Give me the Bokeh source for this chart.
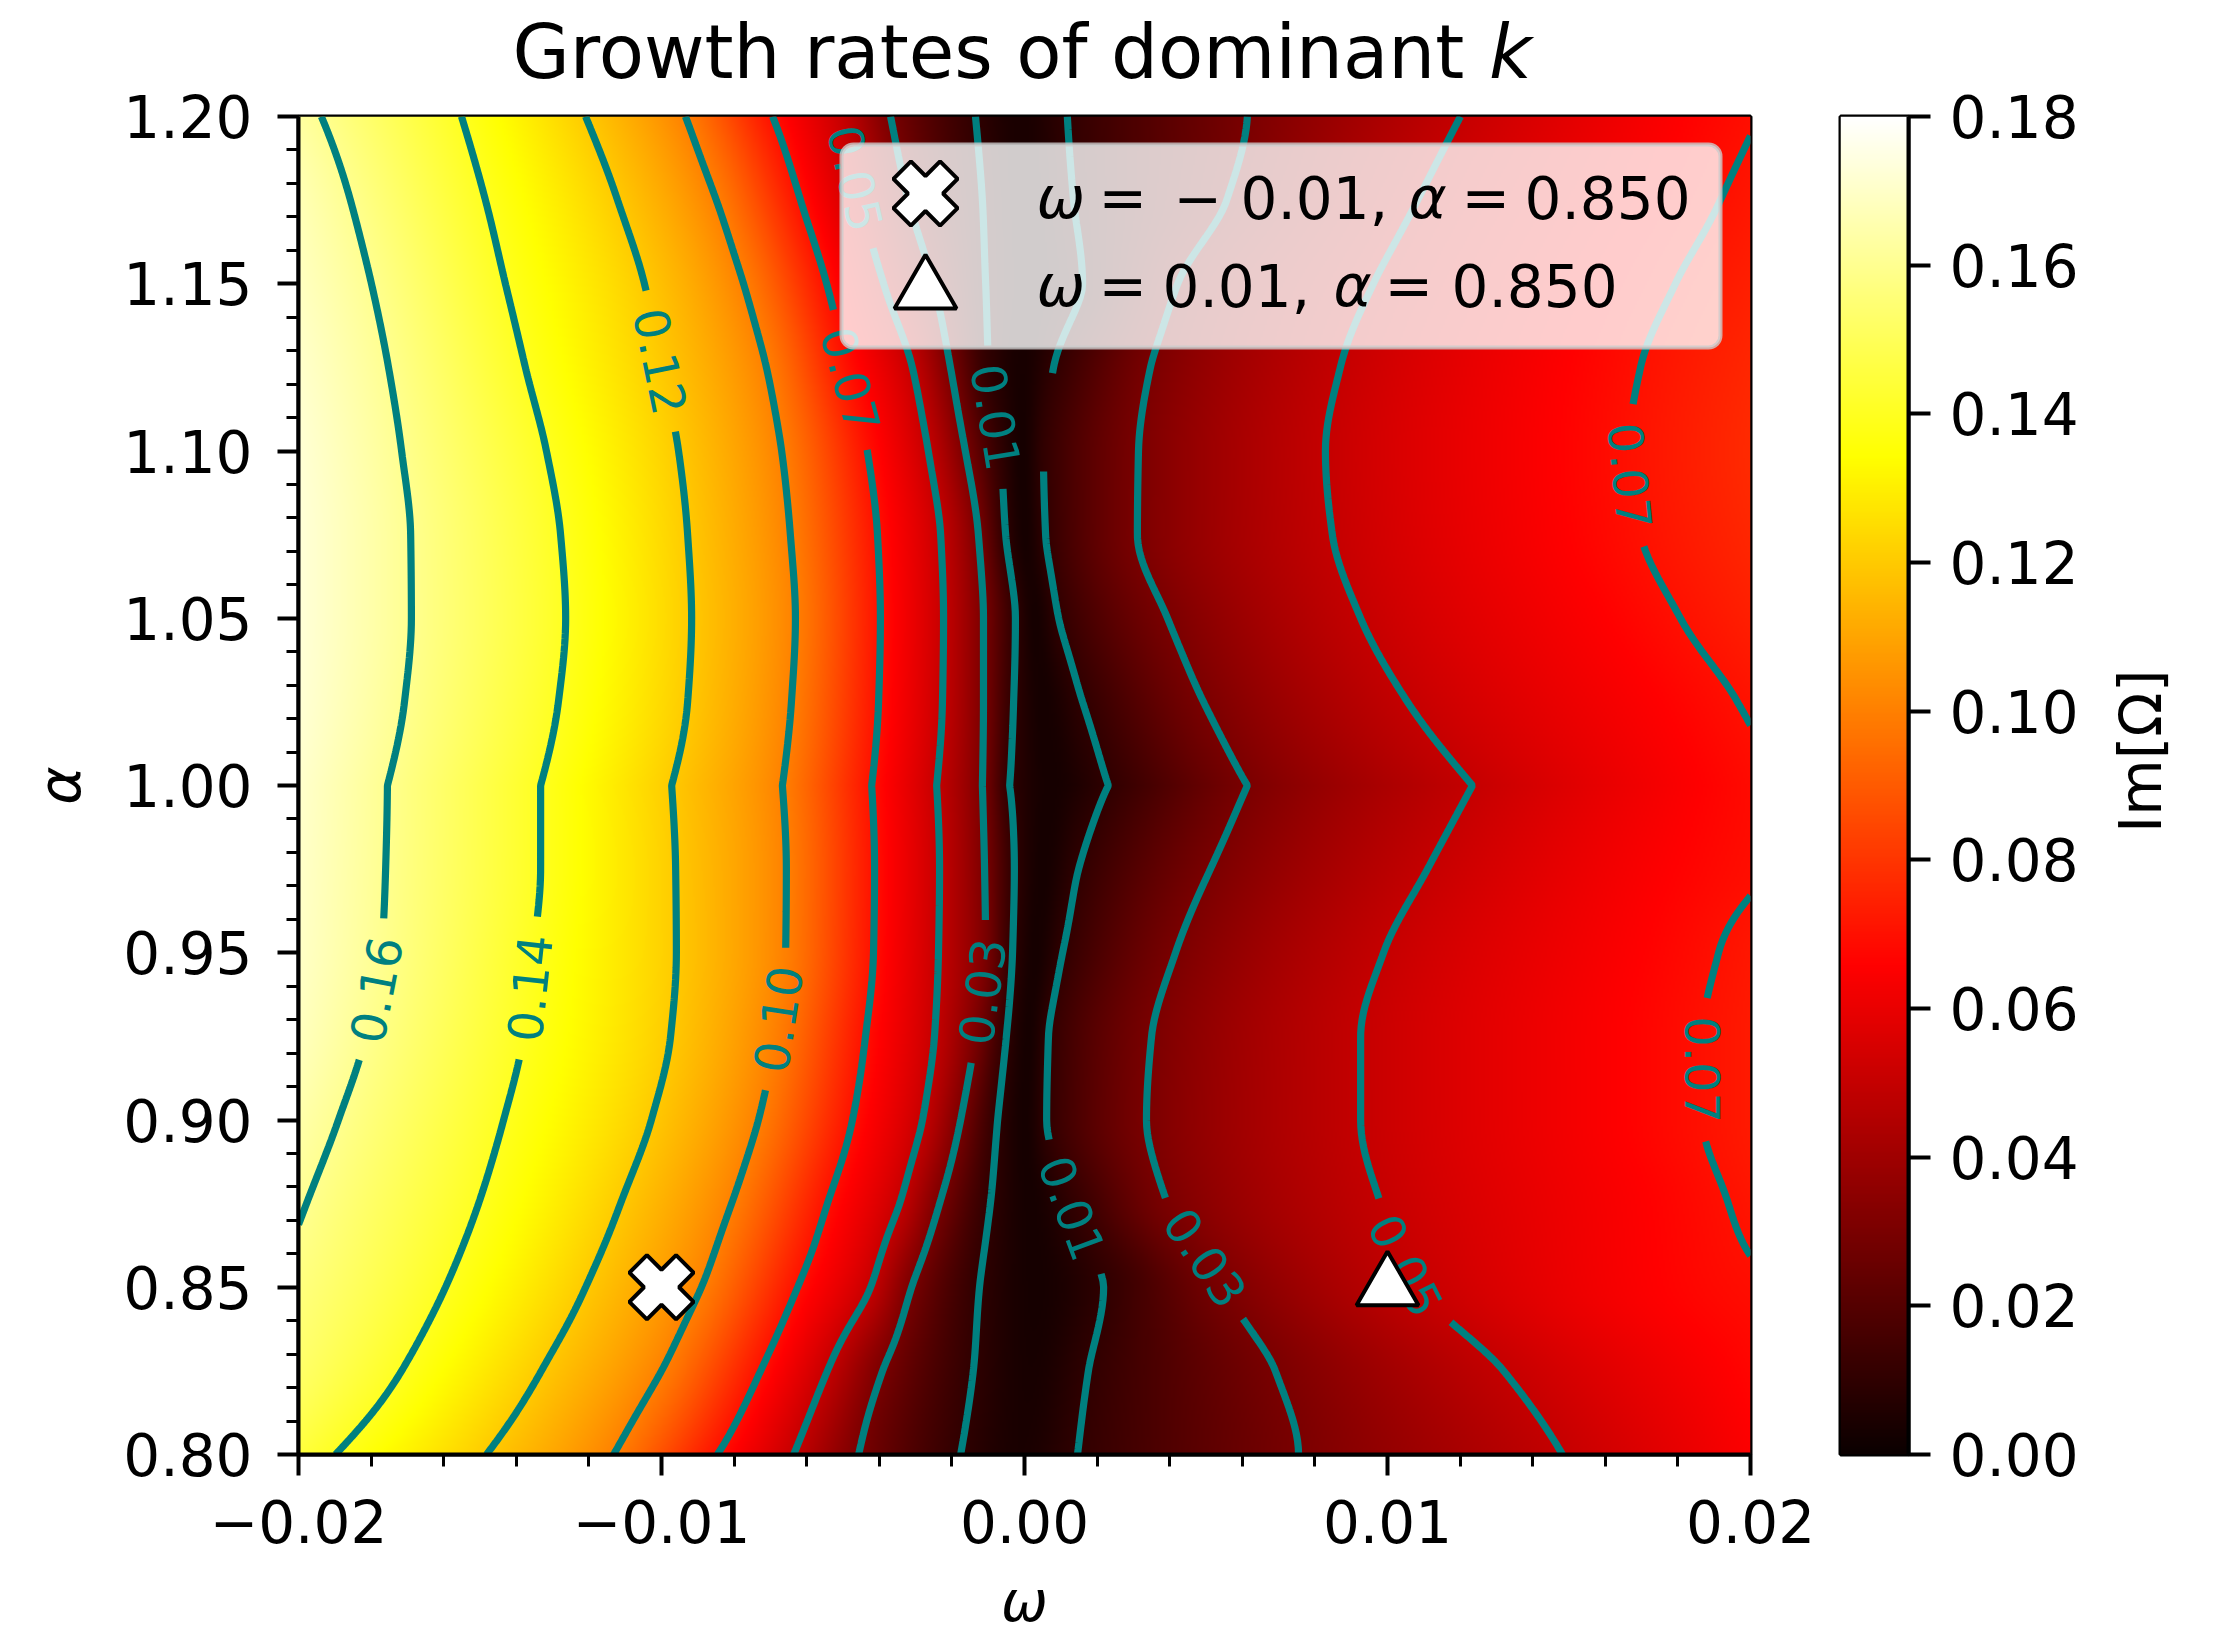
import math
import numpy as np
import contourpy
from bokeh.plotting import figure
from bokeh.layouts import row, column
from bokeh.models import (Range1d, FixedTicker, NumeralTickFormatter,
                          CustomJSTickFormatter, Label, BoxAnnotation)
from bokeh.core.properties import value
from bokeh.embed import file_html
from bokeh.resources import INLINE

# ---------------------------------------------------------------- data
W_MIN, W_MAX = -0.02, 0.02
A_MIN, A_MAX = 0.80, 1.20
x_ticks = [-0.02, -0.01, 0.00, 0.01, 0.02]
y_ticks = [0.80, 0.85, 0.90, 0.95, 1.00, 1.05, 1.10, 1.15, 1.20]
cbar_ticks = [0.00, 0.02, 0.04, 0.06, 0.08, 0.10, 0.12, 0.14, 0.16, 0.18]
cbar_max = 0.18
contour_levels = [0.01, 0.03, 0.05, 0.07, 0.10, 0.12, 0.14, 0.16]

# rows of alpha (top to bottom) at which the field was read
alpha_rows = [1.200, 1.175, 1.150, 1.125, 1.100, 1.075, 1.050, 1.025, 1.000,
              0.975, 0.950, 0.925, 0.900, 0.875, 0.850, 0.825, 0.800]
# Im[Omega] at the left edge (omega = -0.02) and right edge (omega = 0.02)
z_left_edge = [0.163, 0.167, 0.169, 0.171, 0.1725, 0.173, 0.173, 0.1726, 0.171,
               0.1705, 0.170, 0.1685, 0.165, 0.161, 0.157, 0.153, 0.145]
z_right_edge = [0.0695, 0.0717, 0.0740, 0.0760, 0.0770, 0.0760, 0.0739, 0.0707, 0.0685,
                0.0693, 0.0718, 0.0726, 0.0726, 0.0712, 0.0692, 0.0670, 0.0650]
# omega where each level is crossed, left of the dark valley
w016 = [-0.01937, -0.01857, -0.01799, -0.01752, -0.01716, -0.01691, -0.01689, -0.01708, -0.01755,
        -0.01760, -0.01771, -0.01815, -0.01890, -0.01978, None, None, None]
w014 = [-0.01551, -0.01485, -0.01430, -0.01375, -0.01317, -0.01278, -0.01264, -0.01284, -0.01333,
        -0.01333, -0.01353, -0.01380, -0.01435, -0.01504, -0.01595, -0.01716, -0.01898]
w012 = [-0.01209, -0.01121, -0.01047, -0.01000, -0.00953, -0.00928, -0.00917, -0.00928, -0.00972,
        -0.00961, -0.00959, -0.00975, -0.01028, -0.01113, -0.01209, -0.01331, -0.01482]
w010 = [-0.00934, -0.00849, -0.00774, -0.00711, -0.00669, -0.00645, -0.00631, -0.00642, -0.00667,
        -0.00656, -0.00658, -0.00686, -0.00733, -0.00807, -0.00890, -0.01000, -0.01132]
w007 = [-0.00694, -0.00617, -0.00545, -0.00488, -0.00433, -0.00405, -0.00397, -0.00402, -0.00421,
        -0.00413, -0.00416, -0.00438, -0.00474, -0.00543, -0.00625, -0.00727, -0.00846]
w005_left = [-0.00499, -0.00452, -0.00388, -0.00309, -0.00265, -0.00231, -0.00223, -0.00226, -0.00242,
             -0.00234, -0.00237, -0.00248, -0.00281, -0.00344, -0.00424, -0.00543, -0.00636]
w003_left = [-0.00369, -0.00320, -0.00251, -0.00204, -0.00163, -0.00127, -0.00113, -0.00113, -0.00116,
             -0.00110, -0.00107, -0.00135, -0.00176, -0.00234, -0.00311, -0.00391, -0.00457]
w001_left = [-0.00135, -0.00116, -0.00107, -0.00099, -0.00066, -0.00052, -0.00025, -0.00030, -0.00041,
             -0.00028, -0.00033, -0.00050, -0.00074, -0.00094, -0.00124, -0.00141, -0.00176]
# bottom of the valley
w_valley = [-0.00011, 0.00003, 0.00017, -0.00005, -0.00005, 0.00003, 0.00030, 0.00050, 0.00072,
            0.00050, 0.00030, 0.00011, 0.00003, 0.00017, 0.00030, 0.00017, -0.00011]
z_valley = [0.004, 0.004, 0.004, 0.0035, 0.003, 0.003, 0.003, 0.003, 0.003,
            0.003, 0.003, 0.003, 0.003, 0.003, 0.003, 0.0035, 0.004]
# crossings right of the valley
w001_right = [0.00118, 0.00135, 0.00160, 0.00080, 0.00052, 0.00058, 0.00094, 0.00160, 0.00231,
              0.00149, 0.00105, 0.00066, 0.00061, 0.00127, 0.00218, 0.00176, 0.00146]
w003_right = [0.00614, 0.00557, 0.00422, 0.00347, 0.00314, 0.00311, 0.00394, 0.00493, 0.00614,
              0.00512, 0.00416, 0.00350, 0.00336, 0.00394, 0.00548, 0.00691, 0.00755]
w005_right = [0.01201, 0.01083, 0.00961, 0.00870, 0.00829, 0.00848, 0.00926, 0.01055, 0.01234,
              0.01110, 0.00989, 0.00926, 0.00926, 0.00981, 0.01083, 0.01320, 0.01482]
w007_right = [None, 0.01917, 0.01793, 0.01697, 0.01664, 0.01697, 0.01807, 0.01964, None,
              None, 0.01912, 0.01868, 0.01868, 0.01939, None, None, None]

# the two marked points
marker_omega = [-0.01, 0.01]
marker_alpha = [0.85, 0.85]
marker_shapes = ["plus", "triangle"]

# contour label anchors (level, omega, alpha)
label_levels = [0.16, 0.14, 0.12, 0.10, 0.07, 0.05, 0.03, 0.01, 0.01, 0.03, 0.05, 0.07, 0.07]
label_omega = [-0.01802, -0.01366, -0.00986, -0.00700, -0.00474, -0.00474, -0.00127, -0.00066,
               0.00107, 0.00477, 0.01072, 0.01689, 0.01868]
label_alpha = [0.9393, 0.9393, 1.1271, 0.9303, 1.1214, 1.1815, 0.9387, 1.1103,
               0.8729, 0.8571, 0.8577, 1.0927, 0.9151]

# ---------------------------------------------------------------- layout constants (page pixels)
FONT = "DejaVu Sans"
PAGE_W, PAGE_H = 2213, 1633
FRAME_X0, FRAME_Y0 = 298, 116
FW, FH = 1452, 1338
TITLE_H = 104
ROW_Y0 = 80                      # the plot row starts here (it overlaps the blank foot of the title strip)
MAIN_TOP = FRAME_Y0 - ROW_Y0
MAIN_BOTTOM = 114
ROW_H = MAIN_TOP + FH + MAIN_BOTTOM
BOTTOM_H = PAGE_H - ROW_Y0 - ROW_H
MAIN_RIGHT = 80
MAIN_W = FRAME_X0 + FW + MAIN_RIGHT
CB_LEFT, CB_W, CB_RIGHT = 10, 68, 190
CBLAB_W = PAGE_W - MAIN_W - (CB_LEFT + CB_W + CB_RIGHT)
TEAL = "#008080"


def px2w(x):
    return W_MIN + (x - FRAME_X0) / FW * (W_MAX - W_MIN)


def px2a(y):
    return A_MAX - (y - FRAME_Y0) / FH * (A_MAX - A_MIN)


# ---------------------------------------------------------------- monotone cubic interpolation
def pchip2d(xk, Y, x):
    xk = np.asarray(xk, float)
    Y = np.asarray(Y, float)
    x = np.asarray(x, float)
    n = len(xk)
    h = np.diff(xk)
    d = np.diff(Y, axis=0) / h[:, None]
    m = np.zeros_like(Y)
    for k in range(1, n - 1):
        w1 = 2 * h[k] + h[k - 1]
        w2 = h[k] + 2 * h[k - 1]
        same = d[k - 1] * d[k] > 0
        with np.errstate(divide="ignore", invalid="ignore"):
            hm = (w1 + w2) / (w1 / d[k - 1] + w2 / d[k])
        m[k] = np.where(same, hm, 0.0)

    def endpoint(h0, h1, d0, d1):
        mm = ((2 * h0 + h1) * d0 - h0 * d1) / (h0 + h1)
        mm = np.where(np.sign(mm) != np.sign(d0), 0.0, mm)
        mm = np.where((np.sign(d0) != np.sign(d1)) & (np.abs(mm) > np.abs(3 * d0)), 3 * d0, mm)
        return mm

    if n > 2:
        m[0] = endpoint(h[0], h[1], d[0], d[1])
        m[-1] = endpoint(h[-1], h[-2], d[-1], d[-2])
    else:
        m[0] = d[0]
        m[-1] = d[0]
    idx = np.clip(np.searchsorted(xk, x, side="right") - 1, 0, n - 2)
    t = ((x - xk[idx]) / h[idx])[:, None]
    hh = h[idx][:, None]
    h00 = 2 * t ** 3 - 3 * t ** 2 + 1
    h10 = t ** 3 - 2 * t ** 2 + t
    h01 = -2 * t ** 3 + 3 * t ** 2
    h11 = t ** 3 - t ** 2
    return h00 * Y[idx] + h10 * hh * m[idx] + h01 * Y[idx + 1] + h11 * hh * m[idx + 1]


# ---------------------------------------------------------------- field construction
left_levels = [0.16, 0.14, 0.12, 0.10, 0.07, 0.05, 0.03, 0.01]
left_cross = [w016, w014, w012, w010, w007, w005_left, w003_left, w001_left]
right_levels = [0.01, 0.03, 0.05, 0.07]
right_cross = [w001_right, w003_right, w005_right, w007_right]

omega_fine = np.linspace(W_MIN, W_MAX, 801)
rows = []
for i in range(len(alpha_rows)):
    xs, ys = [W_MIN], [z_left_edge[i]]
    for lev, arr in zip(left_levels, left_cross):
        if arr[i] is not None:
            xs.append(arr[i]); ys.append(lev)
    xs.append(w_valley[i]); ys.append(z_valley[i])
    for lev, arr in zip(right_levels, right_cross):
        if arr[i] is not None:
            xs.append(arr[i]); ys.append(lev)
    xs.append(W_MAX); ys.append(z_right_edge[i])
    rows.append(pchip2d(xs, np.asarray(ys)[:, None], omega_fine)[:, 0])

order = np.argsort(alpha_rows)
alpha_asc = np.asarray(alpha_rows, float)[order]
Z = np.asarray(rows)[order]
KINK = 1.00  # the field has a cusp along alpha = 1
kink_i = int(np.argmin(np.abs(alpha_asc - KINK)))


def along_alpha(Zr, a_eval):
    a_eval = np.asarray(a_eval, float)
    out = np.empty((len(a_eval), Zr.shape[1]))
    lo = a_eval <= KINK
    out[lo] = pchip2d(alpha_asc[:kink_i + 1], Zr[:kink_i + 1], a_eval[lo])
    out[~lo] = pchip2d(alpha_asc[kink_i:], Zr[kink_i:], a_eval[~lo])
    return out


alpha_fine = np.linspace(A_MIN, A_MAX, 201)
Z_fine = along_alpha(Z, alpha_fine)


# ---------------------------------------------------------------- colour map (matplotlib "hot")
def to_rgba(v):
    x = np.clip(np.asarray(v) / cbar_max, 0, 1)
    r = np.clip(0.0416 + x * (1 - 0.0416) / 0.365079, 0, 1)
    g = np.clip((x - 0.365079) / (0.746032 - 0.365079), 0, 1)
    b = np.clip((x - 0.746032) / (1 - 0.746032), 0, 1)
    img = np.empty(v.shape, dtype=np.uint32)
    view = img.view(dtype=np.uint8).reshape(v.shape + (4,))
    view[..., 0] = np.round(r * 255)
    view[..., 1] = np.round(g * 255)
    view[..., 2] = np.round(b * 255)
    view[..., 3] = 255
    return img


nx_img, ny_img = 726, 669
w_img = W_MIN + (np.arange(nx_img) + 0.5) * (W_MAX - W_MIN) / nx_img
a_img = A_MIN + (np.arange(ny_img) + 0.5) * (A_MAX - A_MIN) / ny_img
Zw = np.array([np.interp(w_img, omega_fine, zr) for zr in Z])
Zimg = along_alpha(Zw, a_img)

# ---------------------------------------------------------------- contours
gen = contourpy.contour_generator(x=omega_fine, y=alpha_fine, z=Z_fine, line_type="Separate")


def to_screen(w, a):
    return ((np.asarray(w) - W_MIN) / (W_MAX - W_MIN) * FW,
            (np.asarray(a) - A_MIN) / (A_MAX - A_MIN) * FH)


def densify(arr, step=1.5):
    sx, sy = to_screen(arr[:, 0], arr[:, 1])
    seg = np.hypot(np.diff(sx), np.diff(sy))
    cum = np.concatenate([[0.0], np.cumsum(seg)])
    total = cum[-1]
    n = max(int(total / step) + 1, 2)
    t = np.linspace(0, total, n)
    return np.interp(t, cum, sx), np.interp(t, cum, sy)


char_w = {"0": 0.636, "1": 0.636, "2": 0.636, "3": 0.636, "4": 0.636, "5": 0.636,
          "6": 0.636, "7": 0.636, "8": 0.636, "9": 0.636, ".": 0.318}
LABEL_PX = 48

lines, masks = {}, {}
for lev in contour_levels:
    ls = [densify(l) for l in gen.lines(lev) if len(l) > 1]
    lines[lev] = ls
    masks[lev] = [np.ones(len(s[0]), bool) for s in ls]

lab_x, lab_y, lab_t, lab_a = [], [], [], []
for lev, lw, la in zip(label_levels, label_omega, label_alpha):
    tx, ty = to_screen(lw, la)
    best = None
    for j, (sx, sy) in enumerate(lines[lev]):
        d = np.hypot(sx - tx, sy - ty)
        k = int(np.argmin(d))
        if best is None or d[k] < best[0]:
            best = (d[k], j, k)
    _, j, k = best
    sx, sy = lines[lev][j]
    cx, cy = sx[k], sy[k]
    k0, k1 = max(k - 15, 0), min(k + 15, len(sx) - 1)
    th = math.atan2(sy[k1] - sy[k0], sx[k1] - sx[k0])
    if th > math.pi / 2:
        th -= math.pi
    elif th <= -math.pi / 2:
        th += math.pi
    txt = f"{lev:.2f}"
    half = sum(char_w[c] for c in txt) * LABEL_PX / 2
    for jj, (qx, qy) in enumerate(lines[lev]):
        masks[lev][jj] &= np.hypot(qx - cx, qy - cy) > half + 18
    lab_x.append(W_MIN + cx / FW * (W_MAX - W_MIN))
    lab_y.append(A_MIN + cy / FH * (A_MAX - A_MIN))
    lab_t.append(txt)
    lab_a.append(th)

seg_xs, seg_ys = [], []
for lev in contour_levels:
    for (sx, sy), mk in zip(lines[lev], masks[lev]):
        idx = np.flatnonzero(mk)
        if len(idx) < 2:
            continue
        breaks = np.flatnonzero(np.diff(idx) > 1)
        for part in np.split(idx, breaks + 1):
            if len(part) < 2:
                continue
            seg_xs.append(W_MIN + sx[part] / FW * (W_MAX - W_MIN))
            seg_ys.append(A_MIN + sy[part] / FH * (A_MAX - A_MIN))


# ---------------------------------------------------------------- helper for plain text strips
def strip(w, h):
    f = figure(width=w, height=h, x_range=Range1d(0, w), y_range=Range1d(0, h),
               toolbar_location=None, output_backend="svg", x_axis_location=None, y_axis_location=None,
               min_border=0, background_fill_color="white", border_fill_color="white")
    f.outline_line_color = None
    f.grid.visible = False
    return f


# title strip
title_fig = strip(PAGE_W, TITLE_H)
TITLE_X, TITLE_MID, TITLE_PX = 512, 51, 74
title_fig.add_layout(Label(x=TITLE_X, y=TITLE_H - TITLE_MID, text="Growth rates of dominant ", text_font=FONT,
                           text_font_size=f"{TITLE_PX}px", text_align="left", text_baseline="middle",
                           text_color="black"))
title_fig.add_layout(Label(x=TITLE_X + 13.197 * TITLE_PX, y=TITLE_H - TITLE_MID, text="k", text_font=FONT,
                           text_font_size=f"{TITLE_PX}px", text_font_style="italic", text_align="left",
                           text_baseline="middle", text_color="black"))

# ---------------------------------------------------------------- main figure
p = figure(frame_width=FW, frame_height=FH, x_range=Range1d(W_MIN, W_MAX), y_range=Range1d(A_MIN, A_MAX),
           toolbar_location=None, output_backend="svg",
           min_border_left=FRAME_X0, min_border_right=MAIN_RIGHT, min_border_top=MAIN_TOP,
           min_border_bottom=MAIN_BOTTOM, background_fill_color="white", border_fill_color="white",
           border_fill_alpha=0.0)
p.grid.visible = False
p.outline_line_color = "black"
p.outline_line_width = 4

p.image_rgba(image=[to_rgba(Zimg)], x=W_MIN, y=A_MIN, dw=W_MAX - W_MIN, dh=A_MAX - A_MIN)
p.multi_line(xs=seg_xs, ys=seg_ys, line_color=TEAL, line_width=7.2)
p.text(x=lab_x, y=lab_y, text=lab_t, angle=lab_a, text_font=value(FONT), text_font_size="48px",
       text_color=TEAL, text_align="center", text_baseline="middle")

p.scatter(x=[marker_omega[0]], y=[marker_alpha[0]], marker=marker_shapes[0], angle=math.pi / 4, size=66,
          fill_color="white", line_color="black", line_width=4)
p.scatter(x=[marker_omega[1]], y=[marker_alpha[1]], marker=marker_shapes[1], size=62,
          fill_color="white", line_color="black", line_width=4)

for ax in (p.xaxis[0], p.yaxis[0]):
    ax.axis_line_width = 4
    ax.axis_line_color = "black"
    ax.major_tick_line_width = 4
    ax.major_tick_line_color = "black"
    ax.minor_tick_line_width = 3
    ax.minor_tick_line_color = "black"
    ax.major_tick_out = 21
    ax.major_tick_in = 0
    ax.minor_tick_out = 12
    ax.minor_tick_in = 0
    ax.major_label_text_font = FONT
    ax.major_label_text_font_size = "58px"
    ax.major_label_text_color = "black"

p.xaxis.ticker = FixedTicker(ticks=x_ticks, minor_ticks=[round(W_MIN + 0.002 * i, 4) for i in range(21)])
p.xaxis.formatter = CustomJSTickFormatter(code="""
const a = Math.abs(tick) < 1e-12 ? 0 : tick;
const s = Math.abs(a).toFixed(2);
return a < 0 ? "\u2212" + s : s;
""")
p.xaxis.major_label_standoff = 24
p.yaxis.ticker = FixedTicker(ticks=y_ticks, minor_ticks=[round(A_MIN + 0.01 * i, 3) for i in range(41)])
p.yaxis.formatter = NumeralTickFormatter(format="0.00")
p.yaxis.major_label_standoff = 25
p.yaxis.axis_label = "α"
p.yaxis.axis_label_text_font = FONT
p.yaxis.axis_label_text_font_size = "58px"
p.yaxis.axis_label_text_font_style = "italic"
p.yaxis.axis_label_text_color = "black"
p.yaxis.axis_label_standoff = 26

# legend (box, keys, text)
p.add_layout(BoxAnnotation(left=px2w(841), right=px2w(1720), top=px2a(144), bottom=px2a(347),
                           fill_color="white", fill_alpha=0.8, line_color="#cccccc", line_alpha=0.8,
                           line_width=4, border_radius=12))
key_center = [193, 290]
for m, shape in enumerate(marker_shapes):
    p.scatter(x=[px2w(925)], y=[px2a(key_center[m])], marker=shape,
              angle=(math.pi / 4 if shape == "plus" else 0), size=(66 if shape == "plus" else 62),
              fill_color="white", line_color="black", line_width=4, level="overlay")

row_mid = [197, 285]
piece_x = [[1036, 1098, 1173, 1240, 1408, 1461, 1524],
           [1036, 1098, 1162, 1333, 1384, 1451]]
for m in range(len(marker_omega)):
    w, a = marker_omega[m], marker_alpha[m]
    pieces = [("ω", True), ("=", False)]
    if w < 0:
        pieces.append(("−", False))
    pieces += [(f"{abs(w):.2f},", False), ("α", True), ("=", False), (f"{a:.3f}", False)]
    for (txt, it), xpx in zip(pieces, piece_x[m]):
        p.add_layout(Label(x=px2w(xpx), y=px2a(row_mid[m]), text=txt, text_font=FONT,
                           text_font_size="58px", text_font_style=("italic" if it else "normal"),
                           text_align="left", text_baseline="middle", text_color="black"))

# ---------------------------------------------------------------- colour bar
cb = figure(frame_width=CB_W, frame_height=FH, x_range=Range1d(0, 1), y_range=Range1d(0, cbar_max),
            toolbar_location=None, output_backend="svg", x_axis_location=None, y_axis_location="right",
            min_border_left=CB_LEFT, min_border_right=CB_RIGHT, min_border_top=MAIN_TOP,
            min_border_bottom=MAIN_BOTTOM, background_fill_color="white", border_fill_color="white",
            border_fill_alpha=0.0)
cb.grid.visible = False
cb.outline_line_color = "black"
cb.outline_line_width = 4
grad = np.linspace(0, cbar_max, 512)[:, None]
cb.image_rgba(image=[to_rgba(grad)], x=0, y=0, dw=1, dh=cbar_max)
ya = cb.yaxis[0]
ya.ticker = FixedTicker(ticks=cbar_ticks)
ya.formatter = NumeralTickFormatter(format="0.00")
ya.axis_line_width = 4
ya.axis_line_color = "black"
ya.major_tick_line_width = 4
ya.major_tick_line_color = "black"
ya.major_tick_out = 22
ya.major_tick_in = 0
ya.minor_tick_out = 0
ya.major_label_standoff = 19
ya.major_label_text_font = FONT
ya.major_label_text_font_size = "58px"
ya.major_label_text_color = "black"

cblab = strip(CBLAB_W, ROW_H)
cblab.border_fill_alpha = 0.0
cblab.background_fill_alpha = 0.0
cblab.add_layout(Label(x=2140 - (PAGE_W - CBLAB_W), y=ROW_H - (786 - ROW_Y0), text="Im[Ω]", angle=math.pi / 2,
                       text_font=FONT, text_font_size="58px", text_align="center", text_baseline="middle",
                       text_color="black"))

# x-axis label strip
bottom_fig = strip(PAGE_W, BOTTOM_H)
bottom_fig.add_layout(Label(x=1024, y=BOTTOM_H / 2, text="ω", text_font=FONT,
                            text_font_size="56px", text_font_style="italic", text_align="center",
                            text_baseline="middle", text_color="black"))

plot_row = row(p, cb, cblab, margin=(ROW_Y0 - TITLE_H, 0, 0, 0))
layout = column(title_fig, plot_row, bottom_fig)
open("out.html", "w").write(file_html(layout, INLINE))
